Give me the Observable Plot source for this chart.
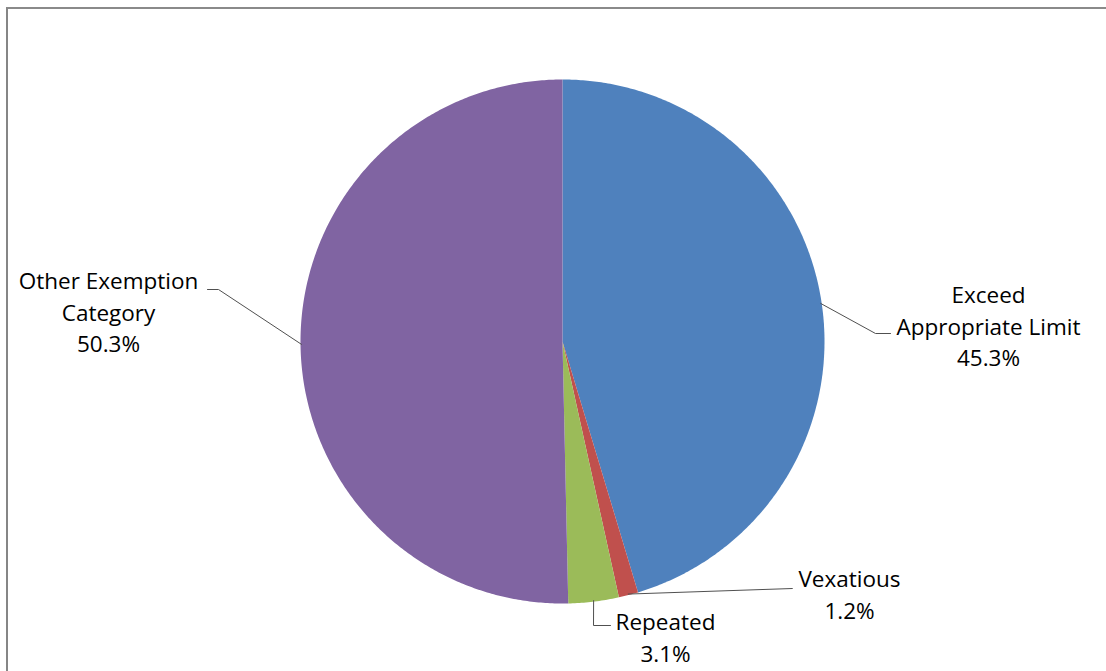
<!DOCTYPE html>
<html>
<head>
<meta charset="utf-8">
<script src="https://cdn.jsdelivr.net/npm/d3@7"></script>
<script src="https://cdn.jsdelivr.net/npm/@observablehq/plot@0.6"></script>
<style>
  html, body { margin: 0; padding: 0; background: #fff; overflow: hidden; }
  #wrap { position: relative; width: 1106px; height: 671px; overflow: hidden; }
  #frame { position: absolute; left: 6px; top: 7px; width: 1200px; height: 800px;
           border-left: 2px solid #868686; border-top: 2px solid #8a8a8a; box-sizing: border-box; }
  #chart { position: absolute; left: 0; top: 0; }
</style>
</head>
<body>
<div id="wrap"><div id="frame"></div><div id="chart"></div></div>
<script>
// ---- data ----
const categories = ["Exceed Appropriate Limit", "Vexatious", "Repeated", "Other Exemption Category"];
const labelLines = ["Exceed\nAppropriate Limit", "Vexatious", "Repeated", "Other Exemption\nCategory"];
const values = [45.3, 1.2, 3.1, 50.3];
const colors = ["#4F81BD", "#C0504D", "#9BBB59", "#8064A2"];

// ---- layout (pixels) ----
const W = 1106, H = 671;
const cx = 562, cy = 341, R = 262;
const labelPos = [ // label block centre
  {x: 988, y: 324}, {x: 849, y: 592}, {x: 665, y: 635}, {x: 108, y: 310}
];
const leaderTail = [ // elbow then end point of leader line
  [[875, 333], [890, 333]],
  [[792, 588], [792, 588]],
  [[593, 625], [610, 625]],
  [[218, 289], [207, 289]]
];

// ---- geometry ----
const pie = d3.pie().sort(null).value(d => d)(values);
const pt = (a, r) => ({x: cx + r * Math.sin(a), y: cy - r * Math.cos(a)});
const slicePts = [];
pie.forEach((p, i) => {
  const c = pt(0, 0);
  slicePts.push({name: categories[i], ...c});
  const n = Math.max(2, Math.ceil((p.endAngle - p.startAngle) / (Math.PI / 360)));
  for (let k = 0; k <= n; k++) {
    const a = p.startAngle + (p.endAngle - p.startAngle) * k / n;
    slicePts.push({name: categories[i], ...pt(a, R)});
  }
});
const leaderPts = [];
pie.forEach((p, i) => {
  const mid = (p.startAngle + p.endAngle) / 2;
  leaderPts.push({name: categories[i], ...pt(mid, R - 1)});
  leaderTail[i].forEach(([x, y]) => leaderPts.push({name: categories[i], x, y}));
});
const labels = categories.map((c, i) => ({
  name: c,
  text: `${labelLines[i]}\n${values[i].toFixed(1)}%`,
  x: labelPos[i].x, y: labelPos[i].y
}));

const chart = Plot.plot({
  width: W, height: H,
  margin: 0,
  x: {domain: [0, W], range: [0, W], axis: null},
  y: {domain: [0, H], range: [0, H], axis: null},
  color: {domain: categories, range: colors},
  marks: [
    Plot.line(slicePts, {x: "x", y: "y", z: "name", fill: "name", stroke: null, curve: "linear"}),
    Plot.line(leaderPts, {x: "x", y: "y", z: "name", stroke: "#505050", strokeWidth: 1}),
    Plot.text(labels, {x: "x", y: "y", text: "text", fontSize: 22.5, lineHeight: 1.41,
      fill: "#000", lineAnchor: "middle", textAnchor: "middle"})
  ],
  style: {fontFamily: "'Open Sans', sans-serif", background: "transparent"}
});
document.getElementById("chart").appendChild(chart);
</script>
</body>
</html>
